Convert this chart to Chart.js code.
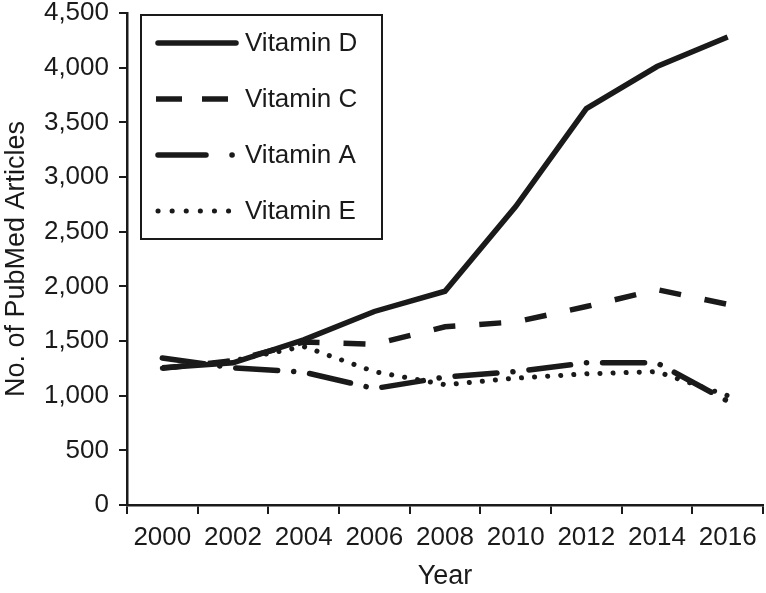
<!DOCTYPE html>
<html>
<head>
<meta charset="utf-8">
<script src="https://cdn.jsdelivr.net/npm/chart.js@4.4.1/dist/chart.umd.min.js"></script>
<style>
  html, body { margin: 0; padding: 0; background: #fff; }
  #wrap { width: 766px; height: 593px; }
</style>
</head>
<body>
<div id="wrap"><canvas id="chart"></canvas></div>
<script>
// values
const years = ['2000', '2002', '2004', '2006', '2008', '2010', '2012', '2014', '2016'];
const vitaminD = [1255, 1300, 1510, 1770, 1955, 2730, 3625, 4010, 4280];
const vitaminC = [1250, 1320, 1490, 1470, 1630, 1675, 1815, 1970, 1835];
const vitaminA = [1345, 1255, 1215, 1065, 1170, 1220, 1300, 1300, 950];
const vitaminE = [1250, 1320, 1450, 1220, 1100, 1160, 1200, 1220, 1000];
const yMax = 4500;
const yStep = 500;

const ink = '#1a1a1a';
Chart.defaults.font.family = '"Liberation Sans", Arial, Helvetica, sans-serif';
Chart.defaults.color = ink;

// legend drawn as a framed box inside the plot, like the original
const boxLegend = {
  id: 'boxLegend',
  afterDraw(chart) {
    const ctx = chart.ctx;
    ctx.save();
    ctx.strokeStyle = ink;
    ctx.lineWidth = 2;
    ctx.setLineDash([]);
    ctx.strokeRect(141, 15, 241, 224);
    ctx.font = '26px "Liberation Sans", Arial, sans-serif';
    ctx.textBaseline = 'middle';
    ctx.fillStyle = ink;
    chart.data.datasets.forEach((ds, i) => {
      const y = 43 + i * 56;
      ctx.beginPath();
      ctx.lineWidth = ds.borderWidth;
      ctx.lineCap = ds.legendCap || 'butt';
      ctx.setLineDash(ds.legendDash || []);
      ctx.moveTo(ds.legendStart || 156, y);
      ctx.lineTo(ds.legendEnd || 238, y);
      ctx.stroke();
      ctx.setLineDash([]);
      ctx.fillText(ds.label, 245, y + 1);
    });
    ctx.restore();
  }
};

new Chart(document.getElementById('chart'), {
  type: 'line',
  data: {
    labels: years,
    datasets: [
      { label: 'Vitamin D', data: vitaminD, borderColor: ink, borderWidth: 5.5,
        borderDash: [], legendCap: 'round', legendStart: 158, legendEnd: 236 },
      { label: 'Vitamin C', data: vitaminC, borderColor: ink, borderWidth: 5.5,
        borderDash: [22, 24], legendDash: [26, 20], legendStart: 156, legendEnd: 228 },
      { label: 'Vitamin A', data: vitaminA, borderColor: ink, borderWidth: 5.5,
        borderDash: [42, 16, 0.1, 16], borderCapStyle: 'round',
        legendDash: [48, 26, 0.1, 30], legendCap: 'round', legendStart: 158, legendEnd: 236 },
      { label: 'Vitamin E', data: vitaminE, borderColor: ink, borderWidth: 5,
        borderDash: [0.1, 13], borderCapStyle: 'round',
        legendDash: [0.1, 14], legendCap: 'round', legendStart: 158, legendEnd: 229 }
    ]
  },
  options: {
    responsive: true,
    maintainAspectRatio: false,
    animation: false,
    layout: { padding: { top: 13, right: 3, left: 0, bottom: 0 } },
    elements: {
      point: { radius: 0, hoverRadius: 0 },
      line: { tension: 0, fill: false, borderJoinStyle: 'miter' }
    },
    plugins: {
      legend: { display: false },
      tooltip: { enabled: false }
    },
    scales: {
      x: {
        offset: true,
        grid: { offset: true, drawOnChartArea: false, drawTicks: true, tickLength: 9,
                color: ink, lineWidth: 2 },
        border: { display: true, color: ink, width: 2.5 },
        ticks: { color: ink, font: { size: 26 }, padding: 8, maxRotation: 0, autoSkip: false },
        title: { display: true, text: 'Year', color: ink, font: { size: 27 },
                 padding: { top: 0, bottom: 0 } },
        afterFit(scale) { scale.height = 88; scale.paddingLeft = 0; scale.paddingRight = 0; }
      },
      y: {
        min: 0,
        max: yMax,
        grid: { drawOnChartArea: false, drawTicks: true, tickLength: 8, color: ink, lineWidth: 2 },
        border: { display: true, color: ink, width: 2.5 },
        ticks: { stepSize: yStep, color: ink, font: { size: 26 }, padding: 10,
                 callback: v => v.toLocaleString('en-US') },
        title: { display: true, text: 'No. of PubMed Articles', color: ink, font: { size: 27 },
                 padding: 0 },
        afterFit(scale) { scale.width = 127; scale.paddingTop = 0; scale.paddingBottom = 0; }
      }
    }
  },
  plugins: [boxLegend]
});
</script>
</body>
</html>
